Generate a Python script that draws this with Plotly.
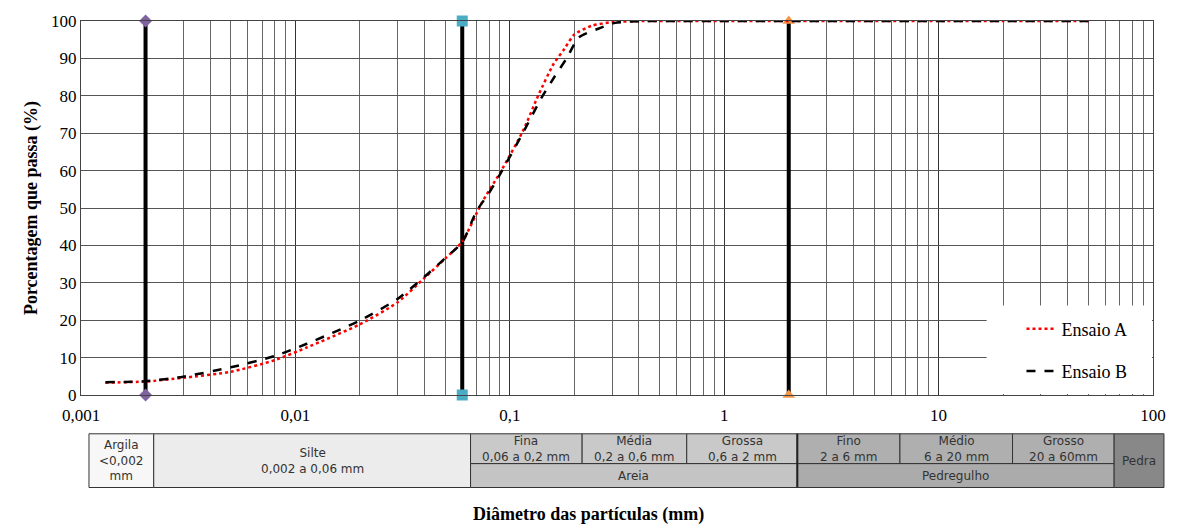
import plotly.graph_objects as go

# ---- data ----
x_a = [0.0013, 0.002, 0.003, 0.005, 0.008, 0.0113, 0.02, 0.03, 0.04, 0.05, 0.06, 0.074,
       0.09, 0.115, 0.136, 0.16, 0.18, 0.2, 0.24, 0.3, 0.42, 0.6, 1, 2, 5, 10, 20, 50]
y_a = [3.3, 3.6, 4.6, 6.2, 9.3, 12.7, 18.9, 24.8, 31.3, 36.5, 41.0, 51.4,
       59.4, 70.5, 80.2, 88.5, 92.6, 96.4, 98.7, 99.7, 100, 100, 100, 100, 100, 100, 100, 100]

x_b = [0.0013, 0.002, 0.003, 0.005, 0.008, 0.0113, 0.02, 0.03, 0.04, 0.05, 0.06, 0.07, 0.08,
       0.09, 0.115, 0.14, 0.16, 0.184, 0.21, 0.26, 0.31, 0.42, 0.6, 1, 2, 5, 10, 20, 50]
y_b = [3.4, 3.7, 4.9, 7.4, 10.4, 13.7, 19.9, 25.7, 31.6, 36.6, 40.8, 49.2, 54.0,
       59.0, 70.0, 79.3, 84.7, 90.0, 95.6, 98.0, 99.5, 100, 100, 100, 100, 100, 100, 100, 100]

limit_x = [0.002, 0.06, 2]
limit_y = [0, 100]
limit_colors = ["#8064a2", "#4bacc6", "#f79646"]
limit_symbols = ["diamond", "square", "triangle-up"]

x_tickvals = [0.001, 0.01, 0.1, 1, 10, 100]
x_ticktext = ["0,001", "0,01", "0,1", "1", "10", "100"]
minor_vals = [m * 10 ** e for e in range(-3, 2) for m in range(2, 10)]

# ---- layout geometry ----
W, H = 1178, 524
L, R, T, B = 81, 1157, 19, 395


def px(x):
    return (x - L) / (R - L)


def py(y):
    return (B - y) / (B - T)


serif = "Liberation Serif"
sans = "DejaVu Sans"

fig = go.Figure()

for xv, c, s in zip(limit_x, limit_colors, limit_symbols):
    fig.add_trace(go.Scatter(
        x=[xv, xv], y=limit_y, mode="lines+markers",
        line=dict(color="black", width=4),
        marker=dict(color=c, symbol=s, size=11 if s != "diamond" else 10, line=dict(width=0)),
        showlegend=False, hoverinfo="skip", cliponaxis=False))

fig.add_trace(go.Scatter(x=x_a, y=y_a, mode="lines", name="Ensaio A",
                         line=dict(color="#ff0000", width=2.5, dash="dot", shape="spline", smoothing=0.6),
                         legendgroup="a"))
fig.add_trace(go.Scatter(x=x_b, y=y_b, mode="lines", name="Ensaio B",
                         line=dict(color="black", width=2.5, dash="dash", shape="spline", smoothing=0.6),
                         legendgroup="b"))

shapes = []
annotations = []

# white legend box (covers gridlines)
shapes.append(dict(type="rect", xref="paper", yref="paper", x0=px(990), x1=px(1156),
                   y0=py(394), y1=py(305), fillcolor="white", line=dict(width=0), layer="above"))

# classification table
cells = [
    (89, 154, 434, 488, "#f7f7f7", "Argila<br>&lt;0,002<br>mm"),
    (154, 472, 434, 488, "#ececec", "Silte<br>0,002 a 0,06 mm"),
    (472, 584, 434, 464, "#c9c9c9", "Fina<br>0,06 a 0,2 mm"),
    (584, 689, 434, 464, "#c9c9c9", "Média<br>0,2 a 0,6 mm"),
    (689, 800, 434, 464, "#c9c9c9", "Grossa<br>0,6 a 2 mm"),
    (472, 800, 464, 488, "#c4c4c4", "Areia"),
    (800, 903, 434, 464, "#afafaf", "Fino<br>2 a 6 mm"),
    (903, 1016, 434, 464, "#afafaf", "Médio<br>6 a 20 mm"),
    (1016, 1118, 434, 464, "#afafaf", "Grosso<br>20 a 60mm"),
    (800, 1118, 464, 488, "#ababab", "Pedregulho"),
    (1118, 1168, 434, 488, "#888888", "Pedra"),
]
for x0, x1, y0, y1, fill, txt in cells:
    shapes.append(dict(type="rect", xref="paper", yref="paper", x0=px(x0), x1=px(x1),
                       y0=py(y1), y1=py(y0), fillcolor=fill,
                       line=dict(color="#333333", width=1), layer="above"))
    annotations.append(dict(xref="paper", yref="paper", x=px((x0 + x1) / 2), y=py((y0 + y1) / 2),
                            text=txt, showarrow=False, xanchor="center", yanchor="middle",
                            font=dict(family=sans, size=12, color="#333333")))
# thick separator sand / gravel
shapes.append(dict(type="line", xref="paper", yref="paper", x0=px(800), x1=px(800),
                   y0=py(488), y1=py(434), line=dict(color="#222222", width=2), layer="above"))

annotations.append(dict(xref="paper", yref="paper", x=px(590), y=py(515),
                        text="<b>Diâmetro das partículas (mm)</b>", showarrow=False,
                        xanchor="center", yanchor="middle",
                        font=dict(family=serif, size=18, color="black")))

fig.update_layout(
    width=W, height=H,
    margin=dict(l=L, r=W - R, t=T, b=H - B),
    paper_bgcolor="white", plot_bgcolor="white",
    shapes=shapes, annotations=annotations,
    showlegend=True,
    legend=dict(x=px(1025), y=py(310), xanchor="left", yanchor="top",
                bgcolor="rgba(0,0,0,0)", font=dict(family=serif, size=18, color="black"),
                tracegroupgap=16, traceorder="grouped"),
    xaxis=dict(type="log", range=[-3, 2], tickvals=x_tickvals, ticktext=x_ticktext,
               showgrid=True, gridcolor="#333333", gridwidth=1,
               minor=dict(tickvals=minor_vals, showgrid=True, gridcolor="#666666", gridwidth=1, ticks=""),
               showline=True, linecolor="#444444", linewidth=1, mirror=True,
               ticks="", ticklabelstandoff=5,
               tickfont=dict(family=serif, size=17, color="black"), zeroline=False),
    yaxis=dict(range=[0, 100], dtick=10, showgrid=True, gridcolor="#555555", gridwidth=1,
               showline=True, linecolor="#444444", linewidth=1, mirror=True,
               ticks="", tickfont=dict(family=serif, size=17, color="black"), zeroline=False,
               title=dict(text="<b>Porcentagem que passa (%)</b>", standoff=8,
                          font=dict(family=serif, size=18, color="black"))),
)

fig.write_html("out.html")
